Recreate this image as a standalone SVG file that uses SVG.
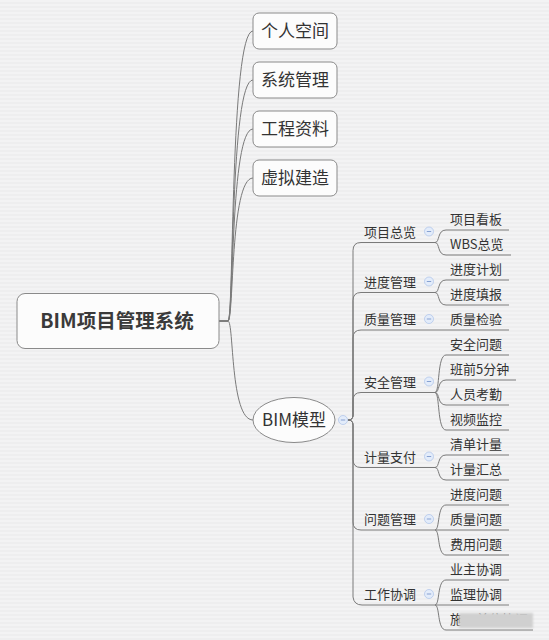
<svg xmlns="http://www.w3.org/2000/svg" width="549" height="640" viewBox="0 0 549 640">
<defs>
<pattern id="bg" width="4" height="4" patternUnits="userSpaceOnUse">
<rect width="4" height="4" fill="#eeeeef"/>
<rect y="0" width="4" height="2" fill="#f3f3f4"/>
</pattern>
<filter id="blur" x="-10%" y="-50%" width="120%" height="200%"><feGaussianBlur stdDeviation="1.2"/></filter>
<g id="cicon">
<circle cx="0" cy="0" r="4.5" fill="#e3ecfa" stroke="#b3c7ea" stroke-width="0.8"/>
<line x1="-2.2" y1="0" x2="2.2" y2="0" stroke="#7d98cc" stroke-width="0.9"/>
</g>
</defs>
<style>
.t{font-family:"Noto Sans CJK SC","Liberation Sans",sans-serif;fill:#333;}
.big{font-size:17px;}
.root{font-size:19.5px;font-weight:bold;fill:#3a3a3a;}
.s{font-size:13px;}
.box{fill:#fcfcfc;stroke:#8a8a8a;stroke-width:1;}
.ln{fill:none;stroke:#7a7a7a;stroke-width:1;}
</style>
<rect width="549" height="640" fill="url(#bg)"/>

<g id="connectors">
<path class="ln" d="M219 321 H228 C234 321 230 31 253 31"/>
<path class="ln" d="M219 321 H228 C234 321 230 80 253 80"/>
<path class="ln" d="M219 321 H228 C234 321 230 129 253 129"/>
<path class="ln" d="M219 321 H228 C234 321 230 178 253 178"/>
<path class="ln" d="M219 321 H228 C234 321 230 420 253 420"/>

<path class="ln" d="M348 420 Q353 420 353 415 V250.5 Q353 242.5 361 242.5 H435"/>
<path class="ln" d="M348 420 Q353 420 353 415 V300.5 Q353 292.5 361 292.5 H435"/>
<path class="ln" d="M348 420 Q353 420 353 415 V338 Q353 330 361 330 H435"/>
<path class="ln" d="M348 420 Q353 420 353 415 V400.5 Q353 392.5 361 392.5 H435"/>
<path class="ln" d="M348 420 Q353 420 353 425 V459.5 Q353 467.5 361 467.5 H435"/>
<path class="ln" d="M348 420 Q353 420 353 425 V522 Q353 530 361 530 H435"/>
<path class="ln" d="M348 420 Q353 420 353 425 V597 Q354 605 362 605 H435"/>

<path class="ln" d="M435 242.5 C440 242.5 437 230 446 230 H509"/>
<path class="ln" d="M435 242.5 C440 242.5 437 255 446 255 H511"/>
<path class="ln" d="M435 292.5 C440 292.5 437 280 446 280 H509"/>
<path class="ln" d="M435 292.5 C440 292.5 437 305 446 305 H509"/>
<path class="ln" d="M435 330 H509"/>
<path class="ln" d="M435 392.5 C440 392.5 437 355 446 355 H509"/>
<path class="ln" d="M435 392.5 C440 392.5 437 380 446 380 H516"/>
<path class="ln" d="M435 392.5 C440 392.5 437 405 446 405 H509"/>
<path class="ln" d="M435 392.5 C440 392.5 437 430 446 430 H509"/>
<path class="ln" d="M435 467.5 C440 467.5 437 455 446 455 H509"/>
<path class="ln" d="M435 467.5 C440 467.5 437 480 446 480 H509"/>
<path class="ln" d="M435 530 C440 530 437 505 446 505 H509"/>
<path class="ln" d="M435 530 H509"/>
<path class="ln" d="M435 530 C440 530 437 555 446 555 H509"/>
<path class="ln" d="M435 605 C440 605 437 580 446 580 H509"/>
<path class="ln" d="M435 605 H509"/>
<path class="ln" d="M435 605 C440 605 437 630 446 630 H533"/>
</g>

<g id="root">
<rect class="box" x="17" y="293.5" width="202" height="55" rx="8"/>
<text class="t root" x="117" y="328" text-anchor="middle">BIM项目管理系统</text>
</g>
<g id="n-geren">
<rect class="box" x="253" y="13" width="84" height="36" rx="6"/>
<text class="t big" x="295" y="37" text-anchor="middle">个人空间</text>
</g>
<g id="n-xitong">
<rect class="box" x="253" y="62" width="84" height="36" rx="6"/>
<text class="t big" x="295" y="86" text-anchor="middle">系统管理</text>
</g>
<g id="n-gongcheng">
<rect class="box" x="253" y="111" width="84" height="36" rx="6"/>
<text class="t big" x="295" y="135" text-anchor="middle">工程资料</text>
</g>
<g id="n-xuni">
<rect class="box" x="253" y="160" width="84" height="36" rx="6"/>
<text class="t big" x="295" y="184" text-anchor="middle">虚拟建造</text>
</g>
<g id="n-bim">
<ellipse class="box" cx="294" cy="420" rx="41" ry="22.5"/>
<text class="t big" x="294" y="426" text-anchor="middle">BIM模型</text>
<use href="#cicon" x="343" y="420"/>
</g>

<g id="n-xmzl"><text class="t s" x="364" y="236.5">项目总览</text><use href="#cicon" x="429" y="231.5"/></g>
<g id="n-jdgl"><text class="t s" x="364" y="286.5">进度管理</text><use href="#cicon" x="429" y="281.5"/></g>
<g id="n-zlgl"><text class="t s" x="364" y="324">质量管理</text><use href="#cicon" x="429" y="319"/></g>
<g id="n-aqgl"><text class="t s" x="364" y="386.5">安全管理</text><use href="#cicon" x="429" y="381.5"/></g>
<g id="n-jlzf"><text class="t s" x="364" y="461.5">计量支付</text><use href="#cicon" x="429" y="456.5"/></g>
<g id="n-wtgl"><text class="t s" x="364" y="524">问题管理</text><use href="#cicon" x="429" y="519"/></g>
<g id="n-gzxt"><text class="t s" x="364" y="599">工作协调</text><use href="#cicon" x="429" y="594"/></g>

<g id="n-l1"><text class="t s" x="450" y="224">项目看板</text></g>
<g id="n-l2"><text class="t s" x="450" y="249">WBS总览</text></g>
<g id="n-l3"><text class="t s" x="450" y="274">进度计划</text></g>
<g id="n-l4"><text class="t s" x="450" y="299">进度填报</text></g>
<g id="n-l5"><text class="t s" x="450" y="324">质量检验</text></g>
<g id="n-l6"><text class="t s" x="450" y="349">安全问题</text></g>
<g id="n-l7"><text class="t s" x="450" y="374">班前5分钟</text></g>
<g id="n-l8"><text class="t s" x="450" y="399">人员考勤</text></g>
<g id="n-l9"><text class="t s" x="450" y="424">视频监控</text></g>
<g id="n-l10"><text class="t s" x="450" y="449">清单计量</text></g>
<g id="n-l11"><text class="t s" x="450" y="474">计量汇总</text></g>
<g id="n-l12"><text class="t s" x="450" y="499">进度问题</text></g>
<g id="n-l13"><text class="t s" x="450" y="524">质量问题</text></g>
<g id="n-l14"><text class="t s" x="450" y="549">费用问题</text></g>
<g id="n-l15"><text class="t s" x="450" y="574">业主协调</text></g>
<g id="n-l16"><text class="t s" x="450" y="599">监理协调</text></g>
<g id="n-l17"><text class="t s" x="450" y="624">施工单位协调</text>
<rect x="459" y="613" width="74" height="15" fill="#d0d0d0" filter="url(#blur)"/></g>
</svg>
